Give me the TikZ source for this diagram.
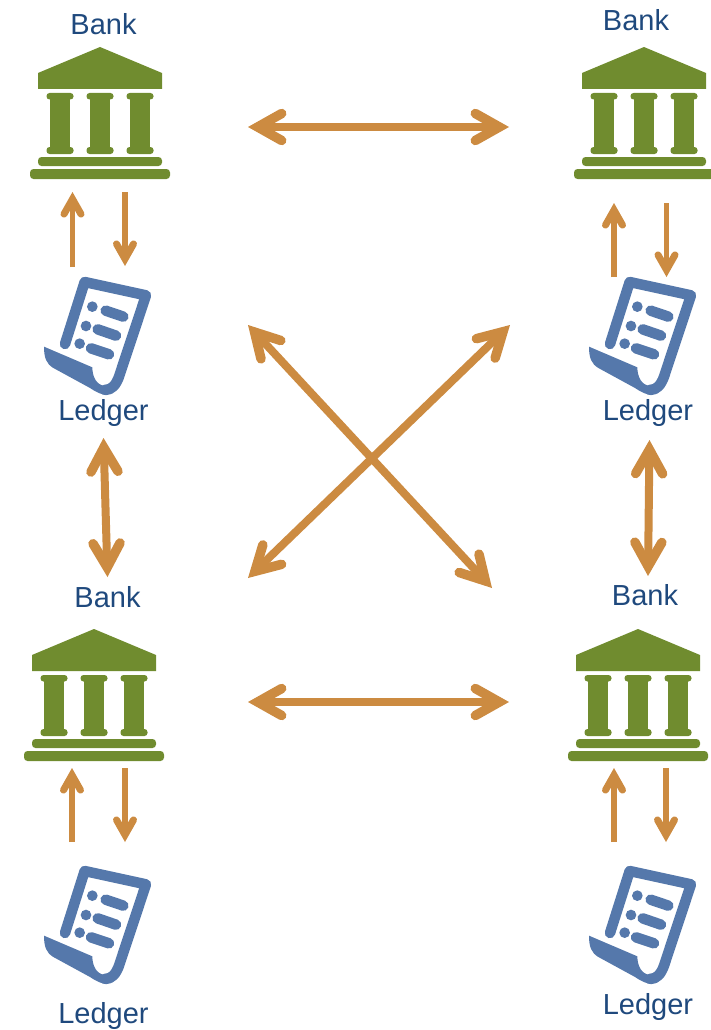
\documentclass[tikz,border=0pt]{standalone}
\usepackage{fontspec}
\setmainfont{Liberation Sans}
\usetikzlibrary{arrows.meta}
\definecolor{bankgreen}{HTML}{708C2F}
\definecolor{ledgerblue}{HTML}{5578AB}
\definecolor{linkorange}{HTML}{CC8B41}
\definecolor{labelblue}{HTML}{1F497D}
\tikzset{
  x=1pt,y=-1pt,
  biglink/.style={draw=linkorange,line width=8pt,{Straight Barb[length=24pt,width=27pt,line cap=round,line width=9.5pt 0]}-{Straight Barb[length=24pt,width=27pt,line cap=round,line width=9.5pt 0]}},
  smalllink/.style={draw=linkorange,line width=5.5pt,-{Straight Barb[length=15pt,width=17pt,line cap=round,line width=7pt 0]}},
  label/.style={text=labelblue,font=\fontsize{29}{31}\selectfont,inner sep=0pt,anchor=base},
  bankicon/.pic={
    \fill[bankgreen] (0,0) -- (62,26) -- (62,42) -- (-62,42) -- (-62,26) -- cycle;
    \foreach \cx in {-40,0,40}{
      \fill[bankgreen] (\cx-10,50) rectangle (\cx+10,103);
      \fill[bankgreen,rounded corners=3pt] (\cx-13.5,46) rectangle (\cx+13.5,52.5);
      \fill[bankgreen,rounded corners=3pt] (\cx-13.5,100) rectangle (\cx+13.5,107);
    }
    \fill[bankgreen,rounded corners=3.5pt] (-62,110) rectangle (62,119);
    \fill[bankgreen,rounded corners=3.5pt] (-70,122) rectangle (70,132);
  },
  ledgericon/.pic={
    \begin{scope}[x=0.3333pt,y=-0.3333pt]
      \draw[ledgerblue,line width=10.5pt,line cap=round,line join=round]
        (75,222) -- (134,36) -- (318,76) -- (237,320)
        .. controls (228,345) and (215,360) .. (195,360);
      \fill[ledgerblue] (12,230) -- (157,292)
        .. controls (157,320) and (170,347) .. (195,347)
        -- (205,374) .. controls (185,376) and (170,367) .. (150,354)
        -- (40,294) .. controls (20,282) and (12,265) .. (12,230) -- cycle;
      \fill[ledgerblue] (157,110) circle (16) (138,168) circle (16) (119,221) circle (16);
      \draw[ledgerblue,line width=10.5pt,line cap=round]
        (197,122) -- (250,140) (173,178) -- (228,197) (153,235) -- (207,253);
    \end{scope}
  }
}
\begin{document}
\begin{tikzpicture}
\useasboundingbox (0,0) rectangle (711,1030);
\pic at (100,47) {bankicon};
\pic at (644,47) {bankicon};
\pic at (94,629) {bankicon};
\pic at (638,629) {bankicon};
\pic at (40,270) {ledgericon};
\pic at (585,270) {ledgericon};
\pic at (40,859) {ledgericon};
\pic at (585,859) {ledgericon};
\node[label] (bankA) at (103.5,34.5) {Bank};
\node[label] (bankB) at (636,30.5) {Bank};
\node[label] (bankC) at (107.5,607.5) {Bank};
\node[label] (bankD) at (645,605.5) {Bank};
\node[label] (ledgerA) at (103.5,420.5) {Ledger};
\node[label] (ledgerB) at (648,420.5) {Ledger};
\node[label] (ledgerC) at (103.5,1023) {Ledger};
\node[label] (ledgerD) at (648,1014) {Ledger};
% link ends
\coordinate (topL) at (248,127);   \coordinate (topR) at (509,127);
\coordinate (botL) at (248,702);   \coordinate (botR) at (509,702);
\coordinate (diagTL) at (248,325); \coordinate (diagBR) at (492,588);
\coordinate (diagTR) at (510,325); \coordinate (diagBL) at (248,578);
\coordinate (leftT) at (103.5,438); \coordinate (leftB) at (107.5,577);
\coordinate (rightT) at (649.5,440); \coordinate (rightB) at (648,576);
\coordinate (aUpS) at (72.5,267);  \coordinate (aUpE) at (72.5,192);
\coordinate (aDnS) at (125,192);   \coordinate (aDnE) at (125,266);
\coordinate (bUpS) at (614,277);   \coordinate (bUpE) at (614,203);
\coordinate (bDnS) at (666.5,203); \coordinate (bDnE) at (666.5,277);
\coordinate (cUpS) at (72,842);    \coordinate (cUpE) at (72,768);
\coordinate (cDnS) at (125,768);   \coordinate (cDnE) at (125,842);
\coordinate (dUpS) at (614,842);   \coordinate (dUpE) at (614,768);
\coordinate (dDnS) at (666,768);   \coordinate (dDnE) at (666,842);
\draw[biglink] (topL) -- (topR);
\draw[biglink] (botL) -- (botR);
\draw[biglink] (diagTL) -- (diagBR);
\draw[biglink] (diagTR) -- (diagBL);
\draw[biglink] (leftT) -- (leftB);
\draw[biglink] (rightT) -- (rightB);
\draw[smalllink] (aUpS) -- (aUpE);
\draw[smalllink] (aDnS) -- (aDnE);
\draw[smalllink] (bUpS) -- (bUpE);
\draw[smalllink] (bDnS) -- (bDnE);
\draw[smalllink] (cUpS) -- (cUpE);
\draw[smalllink] (cDnS) -- (cDnE);
\draw[smalllink] (dUpS) -- (dUpE);
\draw[smalllink] (dDnS) -- (dDnE);
\end{tikzpicture}
\end{document}
